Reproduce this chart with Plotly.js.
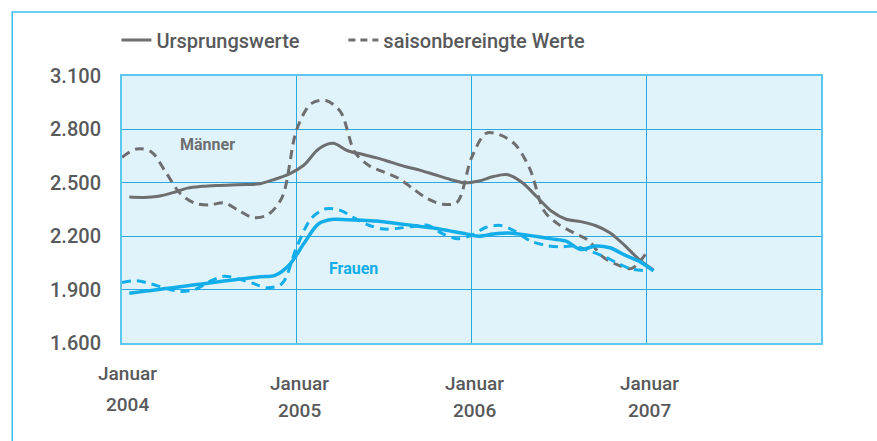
<!DOCTYPE html>
<html><head><meta charset="utf-8">
<script src="https://cdn.plot.ly/plotly-3.0.1.min.js"></script>
<style>html,body{margin:0;padding:0;background:#fff}#chart{width:877px;height:441px}</style>
</head><body><div id="chart"></div>
<script>
// Month index (0 = Januar 2004)
const monthsOriginal = Array.from({length: 37}, (_, i) => i + 0.5);
const monthsAdjusted = Array.from({length: 37}, (_, i) => i);

const maennerUrsprung = [2420,2418,2425,2445,2470,2480,2485,2488,2490,2495,2520,2550,2600,2690,2722,2680,2660,2640,2615,2590,2570,2545,2520,2500,2510,2535,2545,2500,2420,2340,2295,2282,2260,2220,2150,2070,2010];
const maennerSaison = [2643,2690,2675,2560,2440,2385,2375,2388,2345,2305,2320,2420,2800,2945,2962,2900,2670,2595,2560,2525,2465,2410,2380,2390,2640,2778,2768,2715,2580,2340,2265,2220,2178,2085,2040,2019,2105];
const frauenUrsprung = [1880,1890,1901,1911,1922,1932,1943,1953,1963,1972,1980,2040,2160,2270,2295,2292,2290,2285,2275,2265,2255,2245,2230,2215,2200,2212,2218,2210,2198,2185,2172,2125,2145,2135,2095,2060,2005];
const frauenSaison = [1940,1950,1932,1907,1890,1900,1945,1975,1960,1935,1910,1935,2140,2300,2354,2345,2300,2260,2240,2245,2255,2262,2215,2186,2205,2250,2260,2228,2175,2150,2140,2144,2120,2090,2050,2015,2007];

const yTicks = [1600,1900,2200,2500,2800,3100];
const xTicks = [0,12,24,36,48];
const xLabelMonth = ["Januar","Januar","Januar","Januar"];
const xLabelYear = ["2004","2005","2006","2007"];
const legendNames = ["Ursprungswerte","saisonbereingte Werte"];
const seriesLabels = ["Männer","Frauen"];

const GRAY = "#6d6e70";
const BLUE = "#13aee9";
const TEXT = "#58595b";
const FONT = "Roboto, 'Open Sans', sans-serif";

const traces = [
  {x: monthsAdjusted, y: maennerSaison, mode: "lines", line: {color: GRAY, width: 3, dash: "9px,6px", shape: "spline", smoothing: 0.9}, showlegend: false},
  {x: monthsAdjusted, y: frauenSaison, mode: "lines", line: {color: BLUE, width: 3, dash: "9px,6px", shape: "spline", smoothing: 0.9}, showlegend: false},
  {x: monthsOriginal, y: maennerUrsprung, name: legendNames[0], mode: "lines", line: {color: GRAY, width: 3, shape: "spline", smoothing: 0.9}, showlegend: true, legend: "legend"},
  {x: monthsOriginal, y: frauenUrsprung, mode: "lines", line: {color: BLUE, width: 3.5, shape: "spline", smoothing: 0.9}, showlegend: false},
  {x: [null], y: [null], name: legendNames[1], mode: "lines", line: {color: GRAY, width: 3, dash: "7px,5px"}, showlegend: true, legend: "legend2", hoverinfo: "skip"}
];

const annotations = [];
xLabelMonth.forEach((m, i) => {
  const first = i === 0;
  const xx = xTicks[i] + (first ? 0.4 : 0.2);
  annotations.push({xref: "x", yref: "paper", x: xx, y: first ? -0.115 : -0.15, text: m, showarrow: false, yanchor: "middle", font: {family: FONT, size: 19, color: TEXT, weight: 500}});
  annotations.push({xref: "x", yref: "paper", x: xx, y: first ? -0.232 : -0.252, text: xLabelYear[i], showarrow: false, yanchor: "middle", font: {family: FONT, size: 19, color: TEXT, weight: 500}});
});
annotations.push({xref: "x", yref: "y", x: 5.9, y: 2717, text: seriesLabels[0], showarrow: false, font: {family: FONT, size: 16, color: GRAY, weight: 700}});
annotations.push({xref: "x", yref: "y", x: 15.9, y: 2021, text: seriesLabels[1], showarrow: false, font: {family: FONT, size: 16, color: BLUE, weight: 700}});

const legendStyle = {orientation: "h", xanchor: "left", y: 1.135, yanchor: "middle", bgcolor: "rgba(0,0,0,0)",
                     font: {family: FONT, size: 20, color: TEXT, weight: 500}, itemwidth: 30};

const layout = {
  width: 877, height: 441,
  margin: {l: 122, r: 56, t: 76, b: 98, pad: 0},
  paper_bgcolor: "#ffffff",
  plot_bgcolor: "#e1f3fa",
  separators: ",.",
  font: {family: FONT, color: TEXT},
  showlegend: true,
  legend: Object.assign({}, legendStyle, {x: -0.008}),
  legend2: Object.assign({}, legendStyle, {x: 0.3167}),
  xaxis: {range: [0, 48], tickvals: xTicks, showticklabels: false, showgrid: true, gridcolor: "#29a9e0", gridwidth: 1,
          zeroline: false, showline: true, linecolor: "#5cc8f0", linewidth: 2, mirror: true, ticks: "", fixedrange: true},
  yaxis: {range: [1600, 3100], tickvals: yTicks, tickformat: ",d", showgrid: true, gridcolor: "#29a9e0", gridwidth: 1,
          zeroline: false, showline: true, linecolor: "#5cc8f0", linewidth: 2, mirror: true, ticks: "", ticklabelstandoff: 15,
          tickfont: {family: FONT, size: 20, color: TEXT, weight: 500}, fixedrange: true},
  shapes: [{type: "rect", xref: "paper", yref: "paper", x0: -0.157, x1: 2, y0: -2, y1: 1.2397, line: {color: "#3cbdee", width: 1.5}, fillcolor: "rgba(0,0,0,0)", layer: "below"}],
  annotations: annotations
};

Plotly.newPlot("chart", traces, layout, {displayModeBar: false, staticPlot: true});
</script>
</body></html>
